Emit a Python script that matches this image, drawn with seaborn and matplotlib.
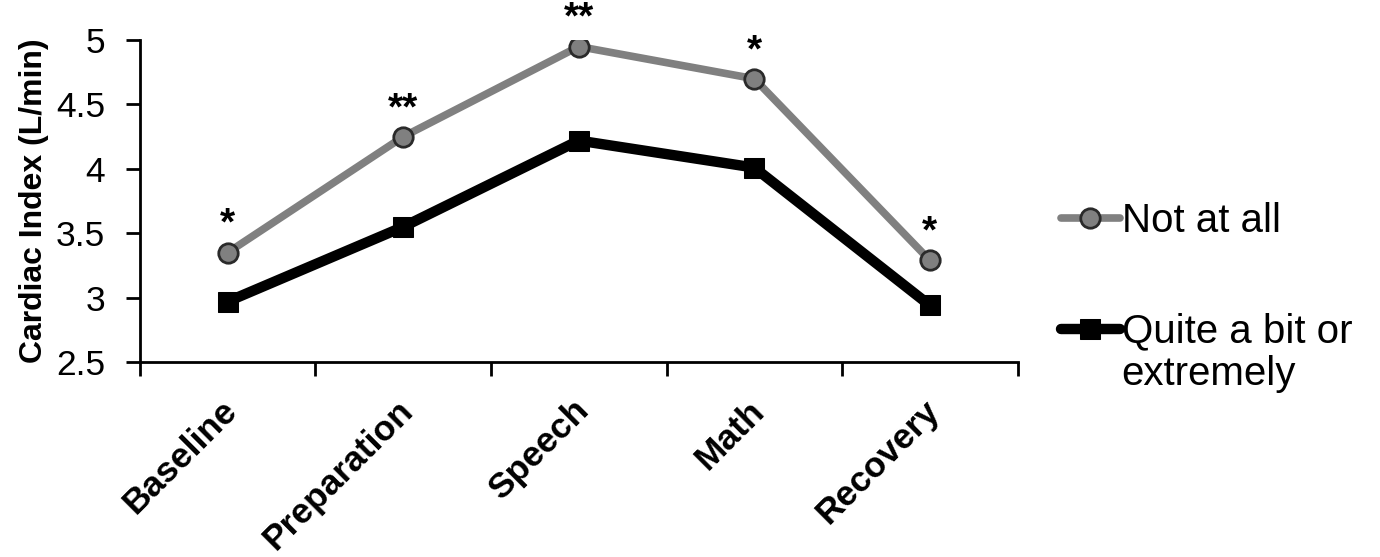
import matplotlib
matplotlib.use("Agg")
import matplotlib.pyplot as plt
import matplotlib.transforms as mtransforms
import seaborn as sns
import pandas as pd
import numpy as np

categories = ["Baseline", "Preparation", "Speech", "Math", "Recovery"]
not_at_all = [3.35, 4.25, 4.95, 4.70, 3.29]
quite_a_bit = [2.97, 3.55, 4.22, 4.01, 2.94]
stars = ["*", "**", "**", "*", "*"]
series_names = ["Not at all", "Quite a bit or"]
series_name_cont = "extremely"
y_ticks = [2.5, 3, 3.5, 4, 4.5, 5]

sns.set_theme(style="white")
plt.rcParams['font.family'] = ['Liberation Sans', 'DejaVu Sans']
plt.rcParams['text.color'] = 'black'

df = pd.DataFrame({
    "pos": list(range(len(categories))) * 2,
    "value": not_at_all + quite_a_bit,
    "group": [series_names[0]] * 5 + [series_names[1]] * 5,
})

fig = plt.figure(figsize=(13.8, 5.57), dpi=100)
ax = fig.add_axes([0.1014, 0.350, 0.636, 0.578])

sub0 = df[df.group == series_names[0]]
sub1 = df[df.group == series_names[1]]
sns.lineplot(data=sub1, x="pos", y="value", ax=ax, color="black", lw=7.5,
             marker="s", markersize=15, markeredgecolor="black",
             markerfacecolor="black", label=series_names[1], zorder=3)
sns.lineplot(data=sub0, x="pos", y="value", ax=ax, color="#808080", lw=5.5,
             marker="o", markersize=14, markeredgecolor="#2a2a2a",
             markeredgewidth=2, markerfacecolor="#808080",
             label=series_names[0], zorder=4)

for i, (v, s) in enumerate(zip(not_at_all, stars)):
    ax.text(i, v + 0.075, s, ha="center", va="bottom", fontsize=28,
            fontweight="bold", color="black")

ax.set_xlim(-0.5, len(categories) - 0.5)
ax.set_ylim(2.5, 5)
ax.set_yticks(y_ticks)
ax.set_yticklabels([f"{t:g}" for t in y_ticks], fontsize=25.5, color="black")
ax.set_xticks(np.arange(-0.5, len(categories), 1.0))
ax.set_xticklabels([])
ax.set_xticks(np.arange(len(categories)), minor=True)
ax.set_xticklabels(categories, minor=True, rotation=45, ha="right",
                   rotation_mode="anchor", fontsize=25.5, fontweight="bold",
                   color="black")
ax.tick_params(axis="x", which="major", direction="out", length=10, width=2,
               color="black", bottom=True)
ax.tick_params(axis="x", which="minor", length=0, pad=20, bottom=True)
ax.tick_params(axis="y", direction="out", length=10, width=2, color="black",
               left=True, pad=15)
shift = mtransforms.ScaledTranslation(-7 / 100, -4 / 100, fig.dpi_scale_trans)
for tick in ax.xaxis.get_minor_ticks():
    tick.label1.set_transform(tick.label1.get_transform() + shift)
ax.set_xlabel("")
ax.set_ylabel("Cardiac Index (L/min)", fontsize=23, fontweight="bold",
              labelpad=5, color="black")
for sp in ["top", "right"]:
    ax.spines[sp].set_visible(False)
for sp in ["left", "bottom"]:
    ax.spines[sp].set_color("black")
    ax.spines[sp].set_linewidth(2)

ax.get_legend().remove()
h, l = ax.get_legend_handles_labels()
order = [l.index(series_names[0]), l.index(series_names[1])]
leg = fig.legend([h[i] for i in order], [l[i] for i in order],
                 loc="upper left", bbox_to_anchor=(0.769, 0.637), frameon=False,
                 fontsize=29, handlelength=1.45, handletextpad=0.05,
                 labelspacing=1.8, borderaxespad=0, borderpad=0)

fig.canvas.draw()
renderer = fig.canvas.get_renderer()
bb = leg.get_texts()[1].get_window_extent(renderer)
x0, y0 = fig.transFigure.inverted().transform((bb.x0, bb.y0))
fig.text(x0, y0 - 0.008, series_name_cont, ha="left", va="top", fontsize=29,
         color="black")

fig.savefig("out.png", dpi=100)
